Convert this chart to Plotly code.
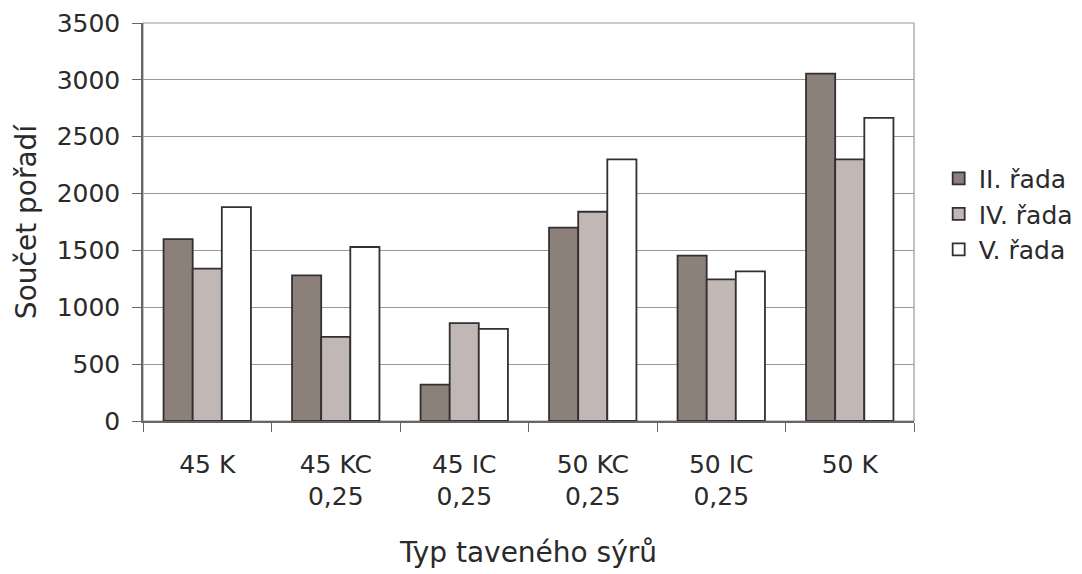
import plotly.graph_objects as go

categories = ["45 K", "45 KC<br>0,25", "45 IC<br>0,25", "50 KC<br>0,25", "50 IC<br>0,25", "50 K"]
series_names = ["II. řada", "IV. řada", "V. řada"]
ii_rada = [1600, 1280, 320, 1700, 1455, 3055]
iv_rada = [1340, 740, 860, 1840, 1245, 2300]
v_rada = [1880, 1530, 810, 2300, 1315, 2665]
y_ticks = [0, 500, 1000, 1500, 2000, 2500, 3000, 3500]

colors = ["#8c807b", "#c1b7b4", "#ffffff"]
font = "DejaVu Sans, Liberation Sans, Arial, sans-serif"
txt = "#2a2a2a"

fig = go.Figure()
for name, vals, col in zip(series_names, [ii_rada, iv_rada, v_rada], colors):
    fig.add_trace(go.Bar(x=categories, y=vals, name=name,
                         marker=dict(color=col, line=dict(color="#333033", width=1.8))))

fig.update_layout(
    width=1082, height=574,
    margin=dict(l=143, r=168, t=23, b=153, autoexpand=False),
    paper_bgcolor="white", plot_bgcolor="white",
    barmode="group", bargap=0.32, bargroupgap=0,
    font=dict(family=font, size=25, color=txt),
    legend=dict(x=1.032, y=0.52, xanchor="left", yanchor="middle",
                font=dict(size=25, color=txt), itemwidth=30),
    xaxis=dict(
        title=dict(text="Typ taveného sýrů", font=dict(size=28), standoff=32),
        showline=True, linecolor="#6e6466", linewidth=1.5,
        mirror=False, ticks="outside", ticklen=9, tickcolor="#6e6466",
        tickson="boundaries", tickfont=dict(size=25),
        ticklabelstandoff=20, automargin=False,
    ),
    yaxis=dict(
        title=dict(text="Součet pořadí", font=dict(size=28), standoff=12),
        range=[0, 3500], tickvals=y_ticks,
        showline=True, linecolor="#6e6466", linewidth=1.5,
        ticks="outside", ticklen=9, tickcolor="#6e6466",
        ticklabelstandoff=7, automargin=False,
        showgrid=True, gridcolor="#999999", gridwidth=1.2,
        tickfont=dict(size=25), zeroline=False,
    ),
)
# right/top plot border
fig.add_shape(type="rect", xref="paper", yref="paper", x0=0, y0=0, x1=1, y1=1,
              line=dict(color="#999999", width=1.2), layer="below")

fig.write_html("out.html")
